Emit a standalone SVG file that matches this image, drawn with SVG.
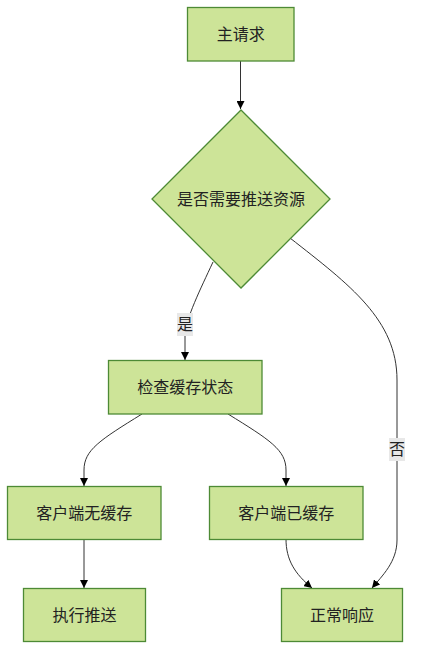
<svg xmlns="http://www.w3.org/2000/svg" width="421" height="662" viewBox="0 0 421 662">
<style>
.node rect, .node polygon { fill:#cde498; stroke:#4d8a35; stroke-width:1.3; }
.node text { font-family:"Liberation Sans","Noto Sans CJK SC",sans-serif; font-size:16px; fill:#222; text-anchor:middle; dominant-baseline:central; }
.edge { fill:none; stroke:#333; stroke-width:1; marker-end:url(#arr); }
.lbl rect { fill:#e8e8e8; }
.lbl text { font-family:"Liberation Sans","Noto Sans CJK SC",sans-serif; font-size:16px; fill:#222; text-anchor:middle; dominant-baseline:central; }
</style>
<defs>
<marker id="arr" viewBox="0 0 10 10" refX="10" refY="5" markerWidth="8" markerHeight="8" markerUnits="userSpaceOnUse" orient="auto">
<path d="M0,0 L10,5 L0,10 z" fill="#000"/>
</marker>
</defs>
<rect width="421" height="662" fill="#fff"/>
<g id="connectors">
<path class="edge" d="M240.5,61 L240.5,109"/>
<path class="edge" d="M213,262 C200,290 186,318 185,335 L185,360"/>
<path class="edge" d="M290,238 C350,285 397,320 397,380 L397,540 C397,562 382,576 372,588"/>
<path class="edge" d="M142,414 C100,440 84,450 84,470 L84,486"/>
<path class="edge" d="M228,414 C270,440 286,450 286,470 L286,486"/>
<path class="edge" d="M84,539 L84,588"/>
<path class="edge" d="M286,539 C286,560 295,574 312,588"/>
<g class="lbl"><rect x="177" y="313" width="16" height="23"/><text x="185" y="324.5">是</text></g>
<g class="lbl"><rect x="389" y="438" width="16" height="23"/><text x="397" y="449.5">否</text></g>
</g>
<g id="n1" class="node"><rect x="187.5" y="7.5" width="106.5" height="53.5"/><text x="240.7" y="34.3">主请求</text></g>
<g id="n2" class="node"><polygon points="241,110 330,199 241,288 152,199"/><text x="241" y="199">是否需要推送资源</text></g>
<g id="n3" class="node"><rect x="108.5" y="360.5" width="153.5" height="53.5"/><text x="185.2" y="387.2">检查缓存状态</text></g>
<g id="n4" class="node"><rect x="7.5" y="486.5" width="153.5" height="53"/><text x="84.2" y="513">客户端无缓存</text></g>
<g id="n5" class="node"><rect x="209.5" y="486.5" width="153.5" height="53"/><text x="286.2" y="513">客户端已缓存</text></g>
<g id="n6" class="node"><rect x="23.5" y="588.5" width="122" height="53"/><text x="84.5" y="615">执行推送</text></g>
<g id="n7" class="node"><rect x="281.5" y="588.5" width="121" height="53"/><text x="342" y="615">正常响应</text></g>
</svg>
